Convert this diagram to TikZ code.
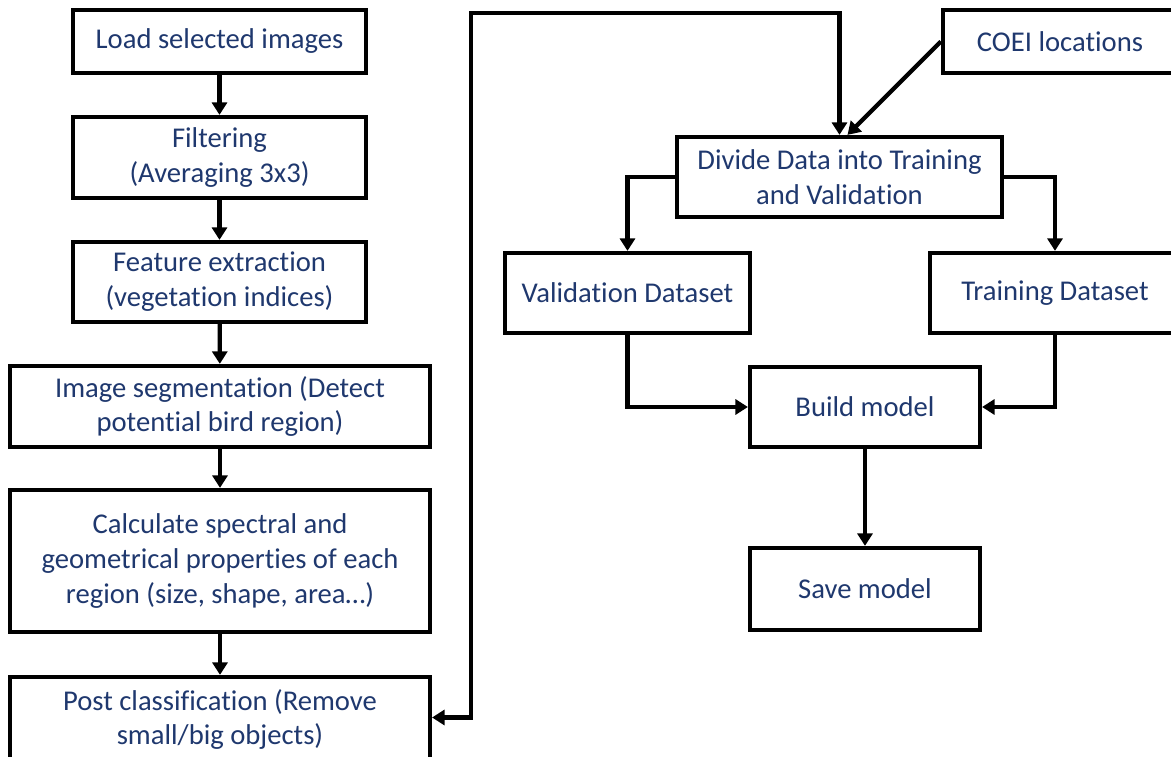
\documentclass[tikz,border=0pt]{standalone}
\usepackage{fontspec}
\setmainfont{Carlito}[Ligatures={NoCommon,NoContextual},Contextuals=NoAlternate]
\usetikzlibrary{arrows.meta}
\definecolor{navy}{RGB}{31,56,110}
\tikzset{
  box/.style={draw=black, line width=2.4pt, text=navy, align=center, inner sep=0pt,
    font=\fontsize{16.3}{19.9}\selectfont},
  arr/.style={line width=2.4pt, -{Triangle[length=0.25cm,width=0.3cm]}},
  arr2/.style={line width=2.4pt, {Triangle[length=0.25cm,width=0.3cm]}-{Triangle[length=0.25cm,width=0.3cm]}}
}
\begin{document}
\begin{tikzpicture}[x=0.02cm,y=-0.02cm]
\useasboundingbox (0,0) rectangle (1171,757);
\clip (0,0) rectangle (1171,757);
\node[box, minimum width=5.86cm, minimum height=1.26cm] (load) at (219.5,41.5) {Load selected images};
\node[box, minimum width=5.86cm, minimum height=1.62cm] (filt) at (219.5,157.5) {Filtering\\(Averaging 3x3)};
\node[box, minimum width=5.86cm, minimum height=1.60cm] (feat) at (219.5,282) {Feature extraction\\(vegetation indices)};
\node[box, minimum width=8.40cm, minimum height=1.62cm] (seg) at (220,406.5) {Image segmentation (Detect\\potential bird region)};
\node[box, minimum width=8.40cm, minimum height=2.84cm] (calc) at (220,561) {Calculate spectral and\\geometrical properties of each\\region (size, shape, area\dots)};
\node[box, minimum width=8.40cm, minimum height=1.70cm] (post) at (220,719.5) {Post classification (Remove\\small/big objects)};
\node[box, minimum width=4.68cm, minimum height=1.26cm] (coei) at (1060,41.5) {COEI locations};
\node[box, minimum width=6.50cm, minimum height=1.60cm] (divide) at (839.5,177) {Divide Data into Training\\and Validation};
\node[box, minimum width=4.90cm, minimum height=1.60cm] (valid) at (627.5,293) {Validation Dataset};
\node[box, minimum width=5.00cm, minimum height=1.60cm] (train) at (1055,293) {Training Dataset};
\node[box, minimum width=4.60cm, minimum height=1.60cm] (build) at (865,407) {Build model};
\node[box, minimum width=4.60cm, minimum height=1.64cm] (save) at (865,589) {Save model};
\coordinate (topL) at (471,13);
\draw[arr] (load) -- (filt);
\draw[arr] (filt) -- (feat);
\draw[arr] (feat) -- (seg);
\draw[arr] (seg) -- (calc);
\draw[arr] (calc) -- (post);
\draw[arr2] ([yshift=0.04cm]post.east) -| (topL) -| (divide.north);
\draw[arr] (coei.west) -- ([xshift=0.16cm]divide.north);
\draw[arr] (divide.west) -| (valid.north);
\draw[arr] (divide.east) -| (train.north);
\draw[arr] (valid.south) |- (build.west);
\draw[arr] (train.south) |- (build.east);
\draw[arr] (build) -- (save);
\end{tikzpicture}
\end{document}
